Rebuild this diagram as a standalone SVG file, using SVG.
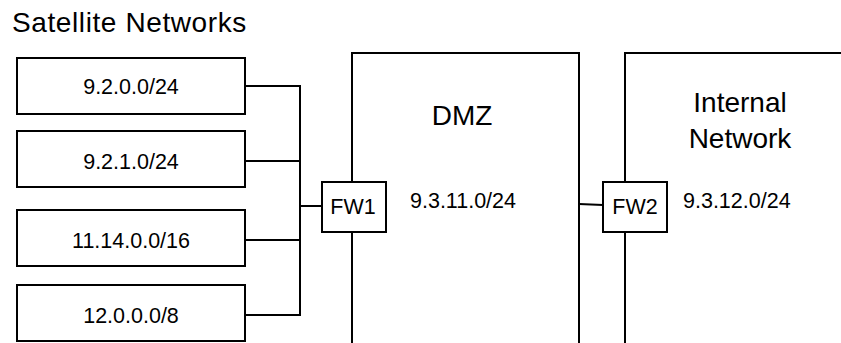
<svg xmlns="http://www.w3.org/2000/svg" width="841" height="343" viewBox="0 0 841 343">
<style>
text{font-family:"Liberation Sans",Arial,Helvetica,sans-serif;fill:#000}
.box{fill:#fff;stroke:#000;stroke-width:2}
.zone{fill:none;stroke:#000;stroke-width:2}
.big{font-size:28px}
.sm{font-size:21.5px}
.wire{fill:none;stroke:#000;stroke-width:2}
</style>
<rect width="841" height="343" fill="#fff"/>
<text class="big" x="12" y="32" style="letter-spacing:0.6px">Satellite Networks</text>
<g id="dmz">
<path class="zone" d="M352,343 V53 H579 V343"/>
<text class="big" x="462" y="125" text-anchor="middle">DMZ</text>
<text class="sm" x="410" y="208">9.3.11.0/24</text>
</g>
<g id="internal">
<path class="zone" d="M625,343 V53 H845"/>
<text class="big" x="740" y="112" text-anchor="middle">Internal</text>
<text class="big" x="740" y="148" text-anchor="middle">Network</text>
<text class="sm" x="683" y="208">9.3.12.0/24</text>
</g>
<g id="connectors">
<path class="wire" d="M245,86 H300 V315 H245 M245,161 H300 M245,240 H300 M300,206 H322"/>
<path class="wire" d="M579,204 L603,205"/>
</g>
<g id="net1"><rect class="box" x="17" y="58" width="228" height="56"/><text class="sm" x="131" y="94" text-anchor="middle">9.2.0.0/24</text></g>
<g id="net2"><rect class="box" x="17" y="131" width="228" height="56"/><text class="sm" x="131" y="169" text-anchor="middle">9.2.1.0/24</text></g>
<g id="net3"><rect class="box" x="17" y="210" width="228" height="56"/><text class="sm" x="131" y="248" text-anchor="middle">11.14.0.0/16</text></g>
<g id="net4"><rect class="box" x="17" y="285" width="228" height="56"/><text class="sm" x="131" y="323" text-anchor="middle">12.0.0.0/8</text></g>
<g id="fw1"><rect class="box" x="322" y="182" width="64" height="50"/><text class="sm" x="353" y="214" text-anchor="middle">FW1</text></g>
<g id="fw2"><rect class="box" x="603" y="182" width="64" height="50"/><text class="sm" x="635" y="214" text-anchor="middle">FW2</text></g>
</svg>
